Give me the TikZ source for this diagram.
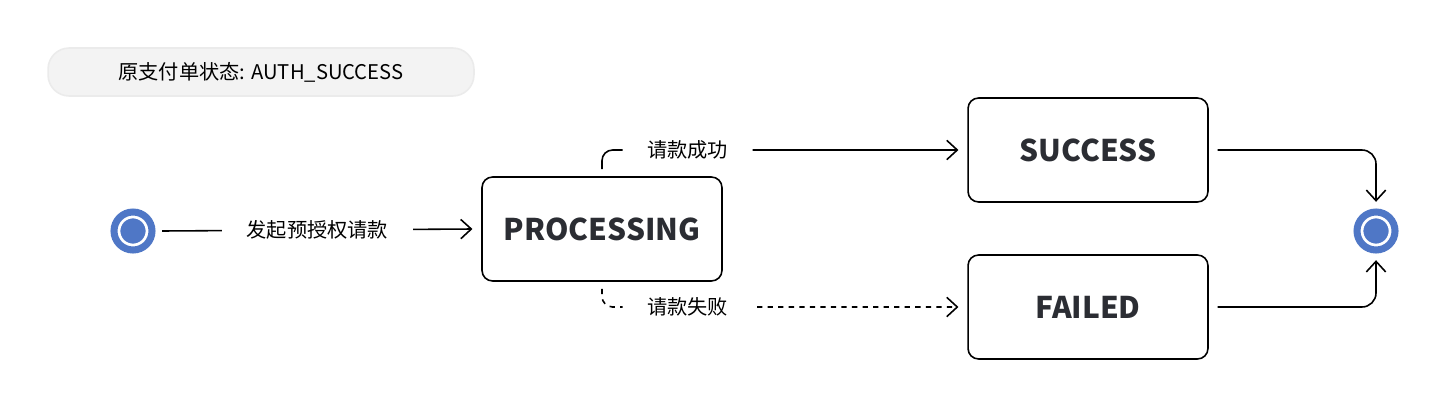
\documentclass[tikz,border=0pt]{standalone}
\usepackage{fontspec}
\setmainfont{Noto Sans CJK SC}
\usetikzlibrary{arrows.meta,positioning,calc}
\definecolor{stateblue}{HTML}{4F77C6}
\definecolor{pillgray}{HTML}{F3F3F3}
\definecolor{boxtext}{HTML}{2B2D33}

\begin{document}
\begin{tikzpicture}[x=0.02cm, y=-0.02cm, >={Straight Barb[length=6pt,width=11pt]}, semithick, line width=0.9pt]
\tikzstyle{state}=[draw=black,rounded corners=6pt,minimum width=4.8cm,minimum height=2.08cm,font=\fontsize{17}{20}\selectfont\bfseries,text=boxtext]
\tikzstyle{endpoint}=[circle,fill=stateblue,draw=white,line width=1.6pt,minimum size=0.76cm,inner sep=0pt,double=stateblue,double distance=4pt]
\tikzstyle{lbl}=[fill=white,inner xsep=14pt,font=\fontsize{11.5}{14}\selectfont]
\useasboundingbox (0,0) rectangle (1452,409);

\node[fill=pillgray,draw=black!8,rounded corners=12pt,minimum width=8.52cm,minimum height=0.96cm,
  font=\fontsize{11.5}{14}\selectfont] (source) at (261,72) {原支付单状态: AUTH\_SUCCESS};
\node[endpoint] (start) at (133,231) {};
\node[state]    (proc) at (602,229) {PROCESSING};
\node[state]    (succ) at (1088,150) {SUCCESS};
\node[state]    (fail) at (1088,307) {FAILED};
\node[endpoint] (stop) at (1376,231) {};

\draw[->] ([xshift=5pt]start.east) -- node[lbl]{发起预授权请款} ([xshift=-5pt]proc.west);
\draw[->,rounded corners=6pt] ([yshift=4pt]proc.north) |- node[lbl,pos=0.62]{请款成功} ([xshift=-5pt]succ.west);
\draw[->,dashed,rounded corners=6pt] ([yshift=-4pt]proc.south) |- node[lbl,pos=0.62]{请款失败} ([xshift=-5pt]fail.west);
\draw[->,rounded corners=8pt] ([xshift=5pt]succ.east) -| ([yshift=5pt]stop.north);
\draw[->,rounded corners=8pt] ([xshift=5pt]fail.east) -| ([yshift=-5pt]stop.south);
\end{tikzpicture}
\end{document}
